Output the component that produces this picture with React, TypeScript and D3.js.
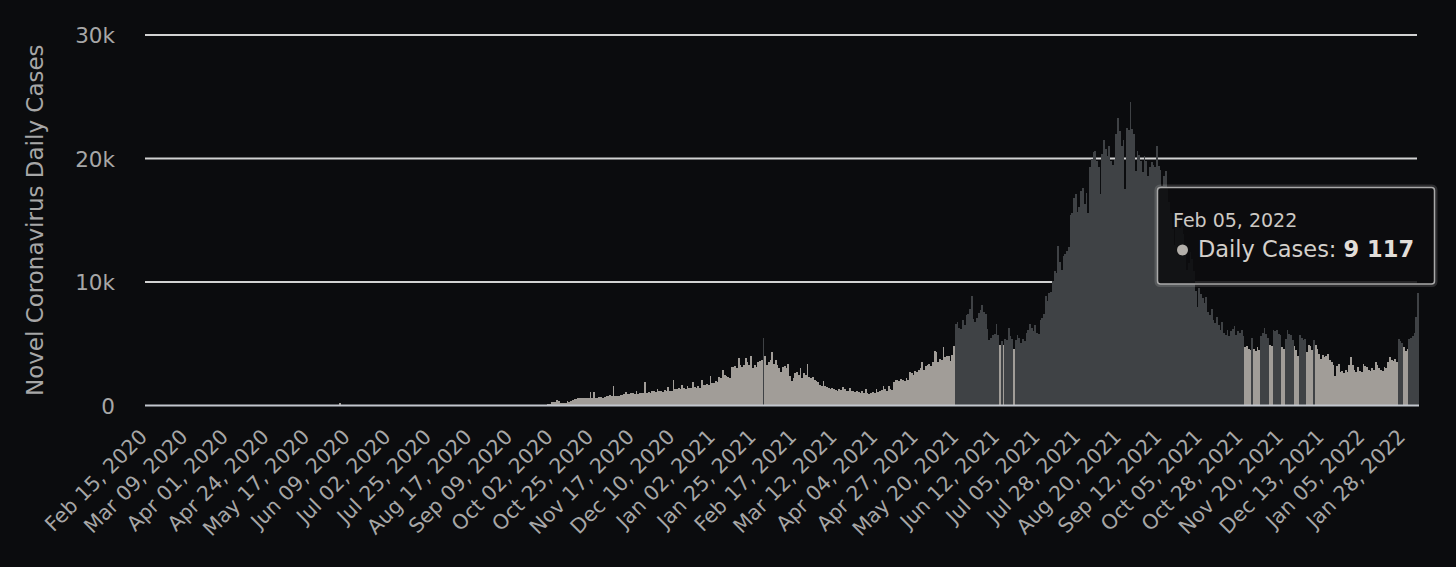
import React from 'react';
import * as d3 from 'd3';

// ---------------- DATA ----------------
const START_DATE = '2020-02-15';
const SERIES_NAME = 'Daily Cases';
const Y_AXIS_TITLE = 'Novel Coronavirus Daily Cases';
const ZONE_THRESHOLD = 5000; // bars at or above this value take the dark colour

// daily new cases, one value per day from Feb 15, 2020 to Feb 05, 2022
const DAILY_CASES: number[] = [
  // Feb 15 - Feb 28, 2020
  0, 0, 0, 0, 0, 0, 0, 0, 0, 0, 0, 0, 0, 0,
  // Feb 29 - Mar 14
  0, 0, 0, 7, 14, 5, 22, 10, 6, 18, 11, 20, 22, 26, 41,
  // Mar 15 - Mar 31
  50, 45, 40, 45, 40, 45, 50, 45, 55, 40, 50, 60, 45, 50, 50, 45, 50,
  // April
  50, 55, 60, 50, 55, 45, 55, 50, 40, 40, 55, 50, 45, 55, 35, 40, 30, 25, 30, 20, 25, 15, 20, 20, 30, 20, 20, 15, 35, 25,
  // May
  30, 25, 35, 40, 25, 15, 25, 20, 25, 25, 10, 20, 20, 25, 25, 20, 20, 20, 12, 10, 20, 10, 12, 15, 20, 30, 12, 25, 55, 40, 20,
  // June
  38, 20, 60, 240, 19, 37, 8, 31, 33, 2, 7, 10, 5, 15, 10, 18, 8, 6, 10, 3, 5, 4, 2, 5, 6, 3, 4, 2, 1, 3,
  // July
  2, 3, 1, 5, 4, 3, 5, 7, 3, 8, 9, 10, 13, 6, 11, 5, 3, 6, 2, 8, 10, 4, 5, 3, 15, 8, 2, 4, 10, 8, 6,
  // August
  6, 3, 5, 10, 11, 12, 5, 24, 8, 6, 7, 20, 25, 15, 15, 25, 11, 9, 5, 10, 14, 12, 7, 20, 6, 15, 4, 10, 4, 5, 6,
  // Sep 1 - Sep 29
  5, 4, 6, 45, 60, 45, 24, 20, 22, 20, 26, 20, 10, 18, 13, 23, 11, 21, 21, 24, 40, 50, 45, 60, 55, 65, 70, 60, 80,
  // Sep 30, 2020 onwards, ten days per row
  150, 130, 250, 280, 300, 430, 350, 200, 180, 220,
  210, 350, 320, 380, 480, 500, 520, 600, 620, 580,
  640, 610, 590, 630, 1100, 640, 1100, 600, 620, 650,
  700, 600, 650, 800, 750, 820, 790, 1600, 780, 750,
  800, 850, 880, 900, 1100, 950, 920, 980, 1000, 930,
  1150, 960, 1000, 980, 1020, 1900, 1050, 1100, 1000, 1150,
  1200, 1100, 1300, 1150, 1200, 1100, 1250, 1150, 1500, 1200,
  1150, 2100, 1300, 1350, 1400, 1300, 1650, 1400, 1350, 1550,
  1450, 1400, 1900, 1500, 1400, 1600, 1450, 2100, 1700, 1650,
  1750, 1700, 2400, 1850, 1800, 2000, 1900, 2300, 2250, 2900,
  2500, 2400, 2300, 2200, 3100, 3150, 3200, 3050, 3850, 3300,
  3100, 3250, 3850, 3500, 3300, 4000, 3000, 3300, 3100, 3500,
  3600, 3700, 5500, 4000, 3300, 3500, 3700, 4300, 3400, 3700,
  3300, 3000, 2700, 3100, 3200, 3000, 3400, 2400, 2000, 2200,
  2600, 2700, 2500, 3000, 2200, 2600, 2500, 3400, 2300, 2200,
  2300, 2100, 2000, 1900, 1700, 1600, 1950, 1600, 1500, 1400,
  1300, 1450, 1350, 1250, 1200, 1300, 1250, 1500, 1300, 1200,
  1150, 1450, 1200, 1150, 1100, 1200, 1100, 1000, 1150, 1050,
  1300, 1000, 950, 1050, 1100, 1000, 1350, 1100, 1200, 1250,
  1600, 1300, 1200, 1600, 1300, 1250, 1900, 2100, 2100, 2000,
  2150, 2100, 1950, 2200, 2100, 2700, 2600, 2500, 2800, 2700,
  2900, 3000, 3500, 2900, 3200, 3300, 3400, 3200, 3500, 4400,
  4300, 3500, 3800, 3700, 4700, 3900, 4000, 4000, 3600, 4100,
  4800, 6600, 6800, 6300, 6200, 6900, 6500, 7300, 7400, 7800,
  8900, 7000, 6800, 7100, 7500, 7700, 8100, 7600, 7400, 6200,
  5300, 5500, 5700, 5800, 6600, 5700, 4900, 5200, 4900, 5400,
  5300, 6300, 5600, 5400, 4600, 5300, 5700, 5500, 5100, 5400,
  5200, 5900, 6100, 6600, 6300, 6000, 6500, 5900, 5800, 6900,
  7100, 7400, 8900, 8500, 9100, 9200, 10100, 10900, 10700, 12900,
  11600, 11000, 12100, 12300, 12500, 12800, 15400, 15600, 16800, 17100,
  15700, 16100, 17400, 17600, 16300, 17200, 15600, 19300, 20000, 20500,
  20600, 19800, 19300, 17100, 20400, 21500, 20800, 20200, 21000, 19800,
  19500, 19900, 22000, 23300, 22200, 21000, 21500, 17500, 22500, 22300,
  24600, 22400, 22000, 19000, 20600, 20300, 19800, 18900, 20200, 19800,
  18600, 19300, 19700, 19500, 19300, 21000, 19400, 19100, 17800, 18600,
  19000, 17700, 16500, 15600, 14300, 13000, 14900, 15500, 14400, 14500,
  13900, 12400, 11000, 11500, 12400, 11900, 10900, 9300, 8000, 9500,
  9000, 8700, 8300, 8800, 7600, 7300, 7800, 6900, 6700, 7200,
  6500, 6100, 6800, 5900, 5700, 6100, 5600, 6000, 6200, 6400,
  5700, 6000, 5900, 6100, 5600,
  4700, 4800, 4600, 4500, 5500, 4600, 4400, 4700, 4500, 5600,
  5900, 6300, 5800, 5500, 4900, 4800, 6100, 6000, 6100, 5800,
  5700, 4700, 4600, 5400, 6100, 5800, 5700, 5300, 4800, 4500,
  4000, 5700, 5500, 5300, 5400, 4300, 4900, 4800, 4500, 5300,
  4900, 4600, 4200, 3800, 4100, 3900, 4000, 4200, 3700, 3500,
  3300, 2400, 3200, 3400, 2700, 2800, 2600, 2900, 2700, 3300,
  3900, 3300, 2900, 2700, 3100, 2800, 2700, 3400, 3200, 3100,
  2900, 2800, 3000, 2900, 3500, 3300, 3000, 2900, 2800, 3100,
  3000, 3500, 3900, 3700, 3600, 3800, 3500, 5400, 5200, 5100,
  // Jan 28 - Feb 05, 2022
  4700, 4400, 4600, 5400, 5500, 5600, 5900, 7200, 9117,
];

const Y_TICKS = [0, 10000, 20000, 30000];

const X_TICK_LABELS = [
  'Feb 15, 2020', 'Mar 09, 2020', 'Apr 01, 2020', 'Apr 24, 2020', 'May 17, 2020', 'Jun 09, 2020',
  'Jul 02, 2020', 'Jul 25, 2020', 'Aug 17, 2020', 'Sep 09, 2020', 'Oct 02, 2020', 'Oct 25, 2020',
  'Nov 17, 2020', 'Dec 10, 2020', 'Jan 02, 2021', 'Jan 25, 2021', 'Feb 17, 2021', 'Mar 12, 2021',
  'Apr 04, 2021', 'Apr 27, 2021', 'May 20, 2021', 'Jun 12, 2021', 'Jul 05, 2021', 'Jul 28, 2021',
  'Aug 20, 2021', 'Sep 12, 2021', 'Oct 05, 2021', 'Oct 28, 2021', 'Nov 20, 2021', 'Dec 13, 2021',
  'Jan 05, 2022', 'Jan 28, 2022',
];

// ---------------- STYLE ----------------
const FONT = '"DejaVu Sans", sans-serif';
const BG = '#0b0c0e';
const LIGHT_BAR = '#a19d98';
const DARK_BAR = '#3f4245';
const GRID = '#d2d2d2';
const AXIS = '#c3c7ce';
const LABEL = '#a7a7a7';

export default function App() {
  const W = 1456;
  const H = 567;
  const plot = { left: 145, right: 1419, top: 35, bottom: 405.5 };

  const parseDay = d3.timeParse('%Y-%m-%d');
  const parseLabel = d3.timeParse('%b %d, %Y');
  const fmtDay = d3.timeFormat('%b %d, %Y');
  const start = parseDay(START_DATE) as Date;

  const n = DAILY_CASES.length;
  const idx = d3.range(n);
  const x = d3.scaleBand<number>().domain(idx).range([plot.left, plot.right]).padding(0);
  const bw = x.bandwidth();
  const y = d3.scaleLinear().domain([0, 30000]).range([plot.bottom, plot.top]);

  const yLabel = (v: number) => (v === 0 ? '0' : `${v / 1000}k`);
  const numFmt = d3.formatLocale({ decimal: '.', thousands: ' ', grouping: [3], currency: ['', ''] }).format(',');

  const xTicks = X_TICK_LABELS.map((label) => {
    const d = parseLabel(label) as Date;
    return { label, i: d3.timeDay.count(start, d) };
  });

  const lastIdx = n - 1;
  const lastDate = d3.timeDay.offset(start, lastIdx);
  const lastVal = DAILY_CASES[lastIdx];

  const tip = { x: 1157.5, y: 187.5, w: 277, h: 96.5 };

  return (
    <svg
      width={W}
      height={H}
      style={{ position: 'absolute', left: 0, top: 0, display: 'block' }}
      fontFamily={FONT}
    >
      <rect x={0} y={0} width={W} height={H} fill={BG} />

      {/* grid lines */}
      {Y_TICKS.filter((t) => t > 0).map((t) => (
        <line key={t} x1={plot.left} x2={plot.right - 2} y1={y(t)} y2={y(t)} stroke={GRID} strokeWidth={2} />
      ))}

      {/* bars */}
      <g shapeRendering="crispEdges">
        {DAILY_CASES.map((v, i) => (
          <rect
            key={i}
            x={x(i) as number}
            y={y(v)}
            width={bw}
            height={Math.max(0, plot.bottom - y(v))}
            fill={v >= ZONE_THRESHOLD ? DARK_BAR : LIGHT_BAR}
          />
        ))}
      </g>

      {/* x axis line */}
      <line x1={plot.left} x2={plot.right} y1={plot.bottom} y2={plot.bottom} stroke={AXIS} strokeWidth={2} />

      {/* y tick labels */}
      {Y_TICKS.map((t) => (
        <text key={t} x={115} y={y(t) + 8} textAnchor="end" fontSize={21.5} fill={LABEL}>
          {yLabel(t)}
        </text>
      ))}

      {/* y axis title */}
      <text
        transform={`translate(43, ${(plot.top + plot.bottom) / 2}) rotate(-90)`}
        textAnchor="middle"
        fontSize={23}
        fill={LABEL}
      >
        {Y_AXIS_TITLE}
      </text>

      {/* x tick labels */}
      {xTicks.map(({ label, i }) => {
        const ax = (x(i) as number) + bw / 2 + 2.5;
        const ay = 438;
        return (
          <text
            key={label}
            x={ax}
            y={ay}
            textAnchor="end"
            fontSize={20.5}
            fill={LABEL}
            transform={`rotate(-45, ${ax}, ${ay})`}
          >
            {label}
          </text>
        );
      })}

      {/* tooltip */}
      <g>
        <rect
          x={tip.x - 1.5}
          y={tip.y - 1.5}
          width={tip.w + 3}
          height={tip.h + 3}
          rx={4}
          fill="none"
          stroke="rgba(200,200,200,0.18)"
          strokeWidth={3}
        />
        <rect
          x={tip.x}
          y={tip.y}
          width={tip.w}
          height={tip.h}
          rx={3}
          fill="rgba(12,13,15,0.88)"
          stroke="#a9a9a9"
          strokeWidth={1.5}
        />
        <text x={tip.x + 15.5} y={tip.y + 39.5} fontSize={19} fill="#cdc9c4">
          {fmtDay(lastDate)}
        </text>
        <circle cx={tip.x + 25} cy={tip.y + 62.5} r={5.5} fill="#b3afaa" />
        <text x={tip.x + 40.5} y={tip.y + 69.5} fontSize={22.5} fill="#d4d0cb">
          {`${SERIES_NAME}: `}
          <tspan fontWeight="bold" fill="#e2ded9">{numFmt(lastVal)}</tspan>
        </text>
      </g>
    </svg>
  );
}
